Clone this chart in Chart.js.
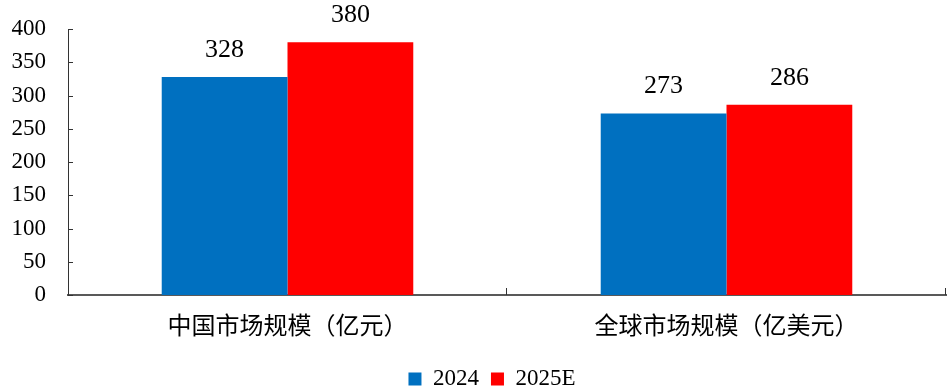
<!DOCTYPE html>
<html>
<head>
<meta charset="utf-8">
<script src="https://cdn.jsdelivr.net/npm/chart.js@4/dist/chart.umd.min.js"></script>
<style>
  html, body { margin: 0; padding: 0; background: #fff; }
  #wrap { width: 949px; height: 390px; }
</style>
</head>
<body>
<div id="wrap"><canvas id="chart" width="949" height="390"></canvas></div>
<script>
const categories = ["中国市场规模（亿元）", "全球市场规模（亿美元）"];
const seriesNames = ["2024", "2025E"];
const values2024 = [328, 273];
const values2025 = [380, 286];
const yTicks = [0, 50, 100, 150, 200, 250, 300, 350, 400];

const serif = "'Times New Roman', 'Liberation Serif', serif";
const axisColor = "#595959";

// value labels above each bar
const barLabels = {
  id: "barLabels",
  afterDatasetsDraw(chart) {
    const ctx = chart.ctx;
    ctx.save();
    ctx.font = "26px " + serif;
    ctx.fillStyle = "#000";
    ctx.textAlign = "center";
    ctx.textBaseline = "bottom";
    chart.data.datasets.forEach((ds, i) => {
      chart.getDatasetMeta(i).data.forEach((bar, j) => {
        ctx.fillText(ds.data[j], bar.x, bar.y - 14);
      });
    });
    ctx.restore();
  }
};

// small tick marks drawn inside the plot, like the original
const innerTicks = {
  id: "innerTicks",
  afterDraw(chart) {
    const { ctx, scales: { x, y }, chartArea } = chart;
    ctx.save();
    ctx.strokeStyle = "#333";
    ctx.lineWidth = 1;
    ctx.beginPath();
    yTicks.forEach(v => {
      const py = Math.round(y.getPixelForValue(v)) + 0.5;
      ctx.moveTo(chartArea.left, py);
      ctx.lineTo(chartArea.left + 5, py);
    });
    const step = (chartArea.right - chartArea.left) / categories.length;
    for (let i = 1; i <= categories.length; i++) {
      const px = Math.round(chartArea.left + step * i) - 0.5;
      ctx.moveTo(px, chartArea.bottom);
      ctx.lineTo(px, chartArea.bottom - 7);
    }
    ctx.stroke();
    ctx.restore();
  }
};

// put the legend where the original has it: a bit right of centre, near the bottom
const legendShift = {
  id: "legendShift",
  afterLayout(chart) {
    const lg = chart.legend;
    if (!lg) return;
    lg.left += 19;
    lg.right += 19;
    const dy = 378 - (lg.top + lg.height / 2);
    lg.top += dy;
    lg.bottom += dy;
  }
};

new Chart(document.getElementById("chart"), {
  type: "bar",
  data: {
    labels: categories,
    datasets: [
      { label: seriesNames[0], data: values2024, backgroundColor: "#0070C0" },
      { label: seriesNames[1], data: values2025, backgroundColor: "#FF0000" }
    ]
  },
  options: {
    responsive: false,
    animation: false,
    devicePixelRatio: 1,
    layout: { padding: { top: 29, right: 3, left: 0, bottom: 0 } },
    datasets: {
      bar: { categoryPercentage: 0.573, barPercentage: 1.0 }
    },
    scales: {
      x: {
        grid: { display: false },
        border: { display: true, color: axisColor, width: 2 },
        ticks: {
          color: "#000",
          padding: 7,
          font: { family: "'Noto Sans CJK SC', sans-serif", size: 24 }
        },
        afterFit(scale) {
          // leave 95px under the plot for the labels plus the legend
          const lg = scale.chart.legend;
          scale.height = lg && lg.height ? 95 - lg.height : 60;
        }
      },
      y: {
        min: 0,
        max: 400,
        grid: { display: false },
        border: { display: true, color: "#333", width: 1 },
        ticks: {
          stepSize: 50,
          color: "#000",
          padding: 14,
          font: { family: serif, size: 23 }
        },
        afterFit(scale) { scale.width = 68; }
      }
    },
    plugins: {
      legend: {
        position: "bottom",
        labels: {
          color: "#000",
          boxWidth: 13,
          boxHeight: 13,
          padding: 12,
          font: { family: serif, size: 23 }
        }
      },
      tooltip: { enabled: false }
    }
  },
  plugins: [barLabels, innerTicks, legendShift]
});
</script>
</body>
</html>
